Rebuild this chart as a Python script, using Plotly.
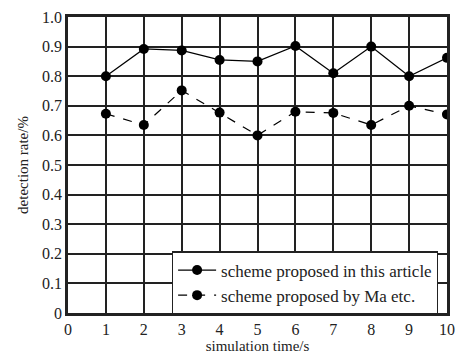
import plotly.graph_objects as go

x_vals = [1, 2, 3, 4, 5, 6, 7, 8, 9, 10]
proposed = [0.80, 0.892, 0.887, 0.855, 0.850, 0.902, 0.810, 0.900, 0.800, 0.862]
ma_etc = [0.673, 0.635, 0.752, 0.677, 0.600, 0.680, 0.676, 0.635, 0.700, 0.671]
names = ["scheme proposed in this article", "scheme proposed by Ma etc."]
y_ticks = [0, 0.1, 0.2, 0.3, 0.4, 0.5, 0.6, 0.7, 0.8, 0.9, 1.0]
y_labels = ["0", "0.1", "0.2", "0.3", "0.4", "0.5", "0.6", "0.7", "0.8", "0.9", "1.0"]
x_ticks = list(range(0, 11))

fig = go.Figure()
fig.add_trace(go.Scatter(x=x_vals, y=proposed, mode="lines+markers", name=names[0],
                         line=dict(color="black", width=1.2),
                         marker=dict(color="black", size=10)))
fig.add_trace(go.Scatter(x=x_vals, y=ma_etc, mode="lines+markers", name=names[1],
                         line=dict(color="black", width=1.2, dash="dash"),
                         marker=dict(color="black", size=10)))

font = dict(family="Liberation Serif", size=16, color="#222")
title_font = dict(family="Liberation Serif", size=15, color="#222")
fig.update_layout(
    width=462, height=346,
    margin=dict(l=60, r=23, t=9, b=41),
    paper_bgcolor="white", plot_bgcolor="white",
    font=font,
    showlegend=True,
    legend=dict(x=0.976, y=0.102, xanchor="right", yanchor="middle",
                bgcolor="white", bordercolor="#222", borderwidth=1.2,
                font=dict(family="Liberation Serif", size=17, color="#222"),
                tracegroupgap=0, itemwidth=38),
)
fig.update_xaxes(range=[0, 10], tickvals=x_ticks, ticktext=[str(v) for v in x_ticks],
                 showgrid=True, gridcolor="#222", gridwidth=2,
                 showline=True, linecolor="#222", linewidth=2.5, mirror=True,
                 zeroline=False, ticks="", tickfont=font, automargin=False,
                 title=dict(text="simulation time/s", font=title_font, standoff=3))
fig.update_yaxes(range=[0, 1.0], tickvals=y_ticks, ticktext=y_labels,
                 showgrid=True, gridcolor="#222", gridwidth=2,
                 showline=True, linecolor="#222", linewidth=2.5, mirror=True,
                 zeroline=False, ticks="", tickfont=font, automargin=False,
                 title=dict(text="detection rate/%", font=title_font, standoff=10))

fig.write_html("out.html")
